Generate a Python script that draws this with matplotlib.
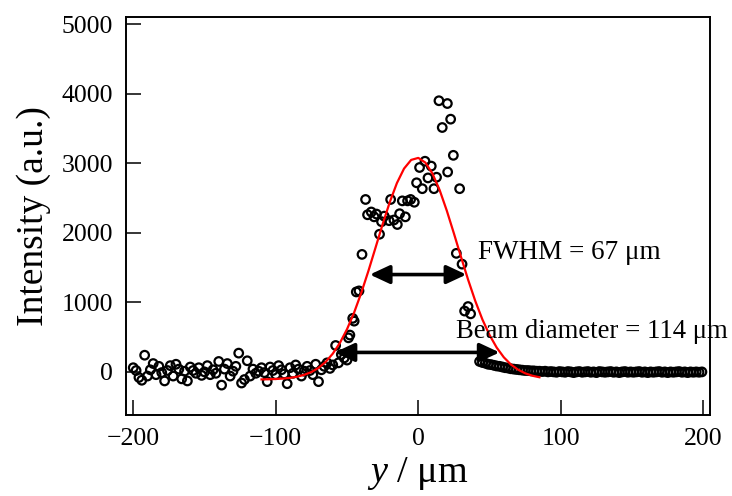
import numpy as np
import matplotlib
matplotlib.use("Agg")
import matplotlib.pyplot as plt

plt.rcParams['font.family'] = ['Liberation Serif', 'DejaVu Serif']
plt.rcParams['mathtext.fontset'] = 'custom'
plt.rcParams['mathtext.rm'] = 'Liberation Serif'
plt.rcParams['mathtext.it'] = 'Liberation Serif:italic'

# measured points: flat background on the left
base_x = [-200, -198, -196, -194, -192, -190, -188, -186, -184, -182, -180, -178, -176, -174,
          -172, -170, -168, -166, -164, -162, -160, -158, -156, -154, -152, -150, -148, -146,
          -144, -142, -140, -138, -136, -134, -132, -130, -128, -126, -124, -122, -120, -118,
          -116, -114, -112, -110, -108, -106, -104, -102, -100, -98, -96, -94, -92, -90,
          -88, -86, -84, -82, -80, -78, -76, -74, -72, -70, -68, -66, -64, -62]
base_y = [60, 20, -80, -120, 240, -60, 30, 120, -40, 80, -10, -130, 20, 90,
          -60, 110, 40, -100, 10, -130, 70, 20, -20, 60, -50, 0, 90, -40,
          30, -20, 150, -190, 40, 120, -60, 10, 80, 270, -160, -110, 160, -60,
          40, -20, 10, 60, -10, -140, 70, 20, -40, 90, 30, -30, -170, 60,
          -20, 100, 40, -60, 10, 80, 20, -40, 110, -140, 30, 80, 130, 50]

# measured points: the peak
peak_x = [-60, -58, -56, -54, -52, -50, -49, -48, -46, -45, -43.5, -41.6, -39.5, -37, -35.6,
          -33, -31, -29.3, -27.2, -25.8, -23.9, -20.5, -19.4, -17.1, -14.7, -13.1, -11.2,
          -9.1, -7.5, -5.4, -2.8, -1.2, 0.9, 2.8, 4.7, 6.8, 9.1, 11, 12.8, 14.5, 16.8, 20.4,
          20.6, 22.7, 24.6, 26.7, 29, 30.7, 32.5, 34.9, 36.7]
peak_y = [100, 380, 130, 250, 200, 170, 490, 530, 770, 730, 1150, 1165, 1690, 2480, 2260,
          2300, 2230, 2270, 1980, 2160, 2240, 2175, 2480, 2185, 2120, 2275, 2460,
          2230, 2460, 2480, 2440, 2720, 2940, 2635, 3030, 2790, 2960, 2635, 2800, 3900, 3515, 3860,
          2875, 3635, 3115, 1705, 2635, 1550, 875, 940, 835]

# measured points: dense tail on the right
tail_x = [43, 45, 47, 49, 51, 53, 55, 57, 59, 61, 63, 65, 67, 69, 71, 73, 75, 77, 79, 81,
          83, 85, 87, 89, 91, 93, 95, 97, 99, 101, 103, 105, 107, 109, 111, 113, 115, 117,
          119, 121, 123, 125, 127, 129, 131, 133, 135, 137, 139, 141, 143, 145, 147, 149,
          151, 153, 155, 157, 159, 161, 163, 165, 167, 169, 171, 173, 175, 177, 179, 181,
          183, 185, 187, 189, 191, 193, 195, 197, 199]
tail_y = [150, 135, 125, 110, 105, 95, 85, 80, 70, 60, 55, 45, 40, 35, 30, 25, 20, 20, 15, 15,
          10, 10, 5, 10, 0, 5, 0, -5, 5, 0, -5, 5, 0, -10, 0, 5, -5, 0,
          5, -5, 0, -10, 5, 0, -5, 0, 5, -5, 0, -10, 0, 5, -5, 0,
          -5, 0, 5, -5, 0, -10, 0, -5, 0, 5, -5, 0, -10, 0, -5, 0,
          5, -5, 0, -10, 0, -5, 0, -5, 0]

# fitted curve
fit_x = [-110, -105, -100, -95, -90, -85, -80, -75, -70, -65, -60, -55, -50, -45, -40, -35,
         -30, -25, -20, -15, -10, -5, 0, 5, 10, 15, 20, 25, 30, 35, 40, 45, 50, 55, 60,
         65, 70, 75, 80, 85]
fit_y = [-108, -106, -102, -96, -86, -69, -42, -2, 58, 144, 262, 417, 614, 855, 1137, 1452,
         1787, 2125, 2442, 2716, 2924, 3049, 3078, 3010, 2850, 2614, 2319, 1991, 1652, 1323,
         1019, 753, 530, 350, 210, 106, 32, -20, -55, -77]

fwhm = (-34, 33.7, 1400)
beam = (-58.7, 57, 280)

fig = plt.figure(figsize=(7.32, 4.96), dpi=100)
ax = fig.add_axes([0.1717, 0.1633, 0.7983, 0.8018])

xs = base_x + peak_x + tail_x
ys = base_y + peak_y + tail_y
ax.scatter(xs, ys, s=38, facecolors='none', edgecolors='black', linewidths=1.6, zorder=2)
ax.plot(fit_x, fit_y, color='red', lw=1.6, zorder=3)

arrow = dict(arrowstyle='<|-|>,head_length=0.6,head_width=0.28', color='black',
             lw=2.6, shrinkA=0, shrinkB=0, mutation_scale=20)
ax.annotate('', xy=(fwhm[0], fwhm[2]), xytext=(fwhm[1], fwhm[2]), arrowprops=arrow, zorder=4)
ax.annotate('', xy=(beam[0], beam[2]), xytext=(beam[1], beam[2]), arrowprops=arrow, zorder=4)
ax.text(42, 1620, 'FWHM = 67 μm', fontsize=19.5, va='baseline')
ax.text(26.5, 490, 'Beam diameter = 114 μm', fontsize=19.3, va='baseline')

ax.set_xlim(-205.3, 204.7)
ax.set_ylim(-620, 5100)
ax.set_xticks([-200, -100, 0, 100, 200])
ax.set_yticks([0, 1000, 2000, 3000, 4000, 5000])
ax.tick_params(direction='in', length=11, width=1.1, labelsize=18.5, pad=9)
for s in ax.spines.values():
    s.set_linewidth(1.4)
ax.set_xlabel('$y$ / μm', fontsize=27.5, labelpad=4)
ax.set_ylabel('Intensity (a.u.)', fontsize=27, labelpad=8)

fig.savefig('out.png', dpi=100)
